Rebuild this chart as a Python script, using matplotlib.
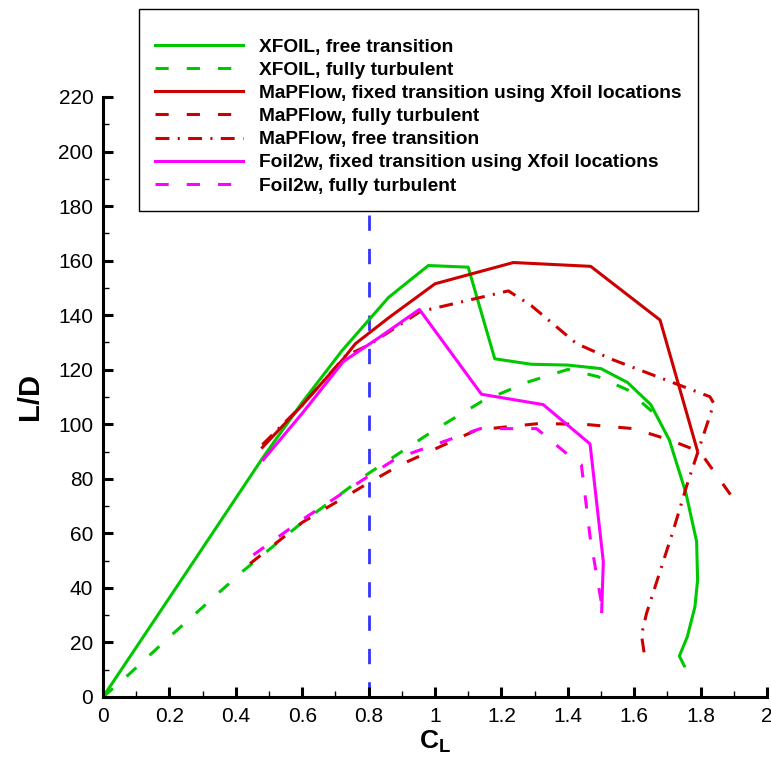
import matplotlib
matplotlib.use("Agg")
import matplotlib.pyplot as plt
from matplotlib.ticker import MultipleLocator, FormatStrFormatter

plt.rcParams["font.family"] = ["Liberation Sans", "DejaVu Sans"]
plt.rcParams["mathtext.fontset"] = "custom"
plt.rcParams["mathtext.bf"] = "Liberation Sans:bold"
plt.rcParams["mathtext.rm"] = "Liberation Sans"
plt.rcParams["lines.scale_dashes"] = False

# XFOIL, free transition
xfoil_free_cl = [0.0, 0.25, 0.48, 0.60, 0.72, 0.86, 0.98, 1.10, 1.18, 1.29, 1.40, 1.50,
                 1.58, 1.65, 1.706, 1.756, 1.788, 1.791, 1.783, 1.76, 1.736, 1.751]
xfoil_free_ld = [0.0, 45.5, 87.5, 108.0, 127.0, 146.5, 158.2, 157.6, 124.0, 122.0, 121.7, 120.4,
                 115.3, 107.2, 94.2, 74.7, 57.0, 42.9, 33.1, 22.1, 15.0, 11.4]

# XFOIL, fully turbulent
xfoil_turb_cl = [0.0, 0.07, 0.20, 0.42, 0.60, 0.80, 1.00, 1.14, 1.28, 1.40, 1.49, 1.58, 1.66]
xfoil_turb_ld = [0.0, 7.4, 22.0, 46.0, 64.0, 82.0, 98.0, 108.3, 115.5, 120.1, 117.5, 112.6, 104.0]

# MaPFlow, fixed transition using Xfoil locations
mapflow_fixed_cl = [0.48, 0.60, 0.724, 0.76, 0.86, 1.00, 1.236, 1.469, 1.678, 1.79]
mapflow_fixed_ld = [91.5, 107.0, 124.0, 129.5, 139.0, 151.5, 159.3, 157.9, 138.2, 90.5]

# MaPFlow, fully turbulent
mapflow_turb_cl = [0.443, 0.60, 0.80, 0.894, 1.125, 1.316, 1.457, 1.598, 1.708, 1.798, 1.90]
mapflow_turb_ld = [48.9, 64.0, 78.5, 85.0, 97.9, 100.3, 99.9, 98.4, 94.2, 89.9, 72.5]

# MaPFlow, free transition
mapflow_free_cl = [0.48, 0.60, 0.73, 0.80, 0.955, 1.221, 1.29, 1.426, 1.537, 1.828, 1.84,
                   1.757, 1.718, 1.637, 1.622, 1.632]
mapflow_free_ld = [92.5, 107.0, 125.0, 129.0, 141.3, 148.9, 143.5, 129.6, 123.6, 110.1, 107.6,
                   77.0, 61.2, 30.6, 22.7, 14.5]

# Foil2w, fixed transition using Xfoil locations
foil2w_fixed_cl = [0.483, 0.60, 0.724, 0.834, 0.953, 1.14, 1.326, 1.467, 1.507, 1.502]
foil2w_fixed_ld = [87.0, 104.0, 123.0, 132.0, 142.1, 111.0, 107.2, 92.8, 49.6, 31.3]

# Foil2w, fully turbulent
foil2w_turb_cl = [0.453, 0.60, 0.80, 0.884, 1.136, 1.306, 1.396, 1.441, 1.467, 1.502]
foil2w_turb_ld = [52.1, 65.0, 81.0, 87.5, 98.4, 98.4, 89.3, 85.1, 58.8, 34.0]

cl_marker = 0.8

GREEN = "#00c800"
RED = "#cc0000"
MAGENTA = "#ff00ff"
BLUE = "#3333ff"
LW = 2.2
DASH = (9.5, 13)
DASHDOT = (10, 6, 1.5, 6)

fig = plt.figure(figsize=(7.71, 7.60), dpi=100)
ax = fig.add_axes([0.1336, 0.0829, 0.8612, 0.7895])

ax.axvline(cl_marker, color=BLUE, lw=2.0, dashes=(11, 13), zorder=1)

ax.plot(xfoil_free_cl, xfoil_free_ld, color=GREEN, lw=LW, label="XFOIL, free transition")
ax.plot(xfoil_turb_cl, xfoil_turb_ld, color=GREEN, lw=LW, dashes=DASH,
        label="XFOIL, fully turbulent")
ax.plot(mapflow_fixed_cl, mapflow_fixed_ld, color=RED, lw=LW,
        label="MaPFlow, fixed transition using Xfoil locations")
ax.plot(mapflow_turb_cl, mapflow_turb_ld, color=RED, lw=LW, dashes=DASH,
        label="MaPFlow, fully turbulent")
ax.plot(mapflow_free_cl, mapflow_free_ld, color=RED, lw=LW, dashes=DASHDOT,
        label="MaPFlow, free transition")
ax.plot(foil2w_fixed_cl, foil2w_fixed_ld, color=MAGENTA, lw=LW,
        label="Foil2w, fixed transition using Xfoil locations")
ax.plot(foil2w_turb_cl, foil2w_turb_ld, color=MAGENTA, lw=LW, dashes=DASH,
        label="Foil2w, fully turbulent")

ax.set_xlim(0, 2)
ax.set_ylim(0, 220)
ax.spines["top"].set_visible(False)
ax.spines["right"].set_visible(False)
ax.spines["left"].set_linewidth(2.2)
ax.spines["bottom"].set_linewidth(2.2)

ax.xaxis.set_major_locator(MultipleLocator(0.2))
ax.xaxis.set_minor_locator(MultipleLocator(0.1))
ax.yaxis.set_major_locator(MultipleLocator(20))
ax.yaxis.set_minor_locator(MultipleLocator(10))
ax.xaxis.set_major_formatter(FormatStrFormatter("%g"))
ax.yaxis.set_major_formatter(FormatStrFormatter("%g"))
ax.tick_params(which="major", direction="in", length=7, width=2.2, labelsize=15, pad=7)
ax.tick_params(which="minor", direction="in", length=4.5, width=1.0)

ax.set_xlabel(r"$\mathbf{C_L}$", fontsize=19, labelpad=2)
ax.set_ylabel("L/D", fontsize=21, fontweight="bold", labelpad=10)

# blank tiny title reproduces the extra gap above the first entry
leg = fig.legend(loc="upper left", bbox_to_anchor=(0.1803, 0.988),
                 fancybox=False, framealpha=1, edgecolor="black",
                 prop=dict(size=13.8, weight="bold"), handlelength=4.6,
                 handletextpad=0.8, labelspacing=0.3, borderpad=0.85,
                 borderaxespad=0, title=" ", title_fontsize=5)
leg.get_frame().set_linewidth(1.0)

fig.savefig("out.png", dpi=100)
